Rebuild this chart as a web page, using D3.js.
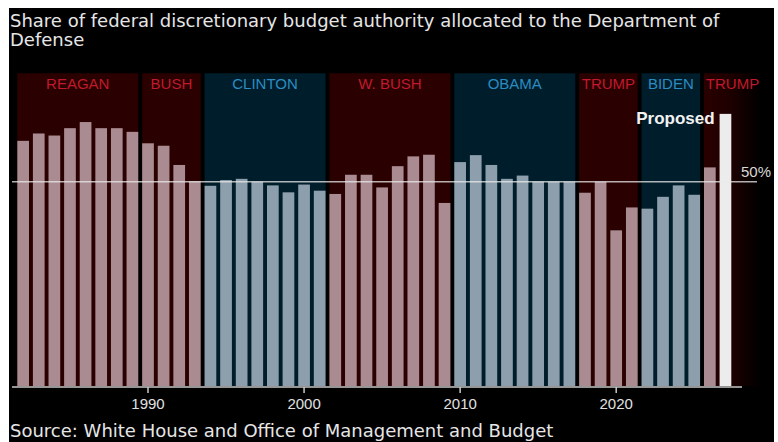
<!DOCTYPE html>
<html>
<head>
<meta charset="utf-8">
<script src="https://cdn.jsdelivr.net/npm/d3@7"></script>
<style>
  html, body { margin: 0; padding: 0; background: #fff; }
  svg { display: block; }
</style>
</head>
<body>
<svg width="778" height="442"></svg>
<script>
const years = d3.range(1982, 2028);
const shares = [
  60.0, 61.8, 61.3, 63.1, 64.6, 63.1, 63.1, 62.2,
  59.4, 58.8, 54.1, 50.1,
  49.0, 50.4, 50.7, 50.0, 49.1, 47.4, 49.3, 47.8,
  47.0, 51.7, 51.7, 48.6, 53.8, 56.2, 56.6, 44.8,
  54.8, 56.5, 54.1, 50.7, 51.5, 50.0, 50.0, 50.0,
  47.3, 50.0, 38.1, 43.7,
  43.4, 46.3, 49.1, 46.8,
  53.5, 66.6
];
const proposedYear = 2027;

const presidents = ["REAGAN", "BUSH", "CLINTON", "W. BUSH", "OBAMA", "TRUMP", "BIDEN", "TRUMP"];
const parties    = ["R", "R", "D", "R", "D", "R", "D", "R"];
const termStart  = [1982, 1990, 1994, 2002, 2010, 2018, 2022, 2026];
const termEnd    = [1989, 1993, 2001, 2009, 2017, 2021, 2025, 2027];

const tickYears = [1990, 2000, 2010, 2020];
const refLine = 50;

const W = 778, H = 442;
const svg = d3.select("svg");

// black panel with the white frame around it
svg.append("rect")
    .attr("x", 9).attr("y", 8)
    .attr("width", W - 9 - 4).attr("height", H - 8)
    .attr("fill", "#000");

const x = d3.scaleBand()
    .domain(years)
    .range([17.3, 731.3])
    .paddingInner(0.25)
    .paddingOuter(0);

const y = d3.scaleLinear()
    .domain([0, 50])
    .range([386, 181.7]);

const bandTop = 73.3;
const colors = {
  R: { band: "#2a0000", bar: "#a98b91", label: "#c01a2c" },
  D: { band: "#001d2b", bar: "#8d9fad", label: "#2b8cc2" }
};

const defs = svg.append("defs");
const grad = defs.append("linearGradient").attr("id", "fade");
grad.append("stop").attr("offset", "0%").attr("stop-color", "#2a0000");
grad.append("stop").attr("offset", "45%").attr("stop-color", "#1e0000");
grad.append("stop").attr("offset", "100%").attr("stop-color", "#000");

// term bands
presidents.forEach((name, i) => {
  const x0 = x(termStart[i]);
  const last = i === presidents.length - 1;
  const x1 = last ? 761 : x(termEnd[i]) + x.bandwidth();
  svg.append("rect")
      .attr("x", x0).attr("y", bandTop)
      .attr("width", x1 - x0).attr("height", y(0) - bandTop)
      .attr("fill", last ? "url(#fade)" : colors[parties[i]].band);

  svg.append("text")
      .attr("x", (x0 + x1) / 2)
      .attr("y", 89)
      .attr("text-anchor", "middle")
      .style("font-family", "'Liberation Sans', Arial, sans-serif")
      .style("font-size", "15px")
      .attr("fill", colors[parties[i]].label)
      .text(name);
});

function partyOf(yr) {
  const i = termStart.findIndex((s, k) => yr >= s && yr <= termEnd[k]);
  return parties[i];
}

// bars
svg.append("g")
  .selectAll("rect")
  .data(years)
  .join("rect")
    .attr("x", d => x(d))
    .attr("width", x.bandwidth())
    .attr("y", (d, i) => y(shares[i]))
    .attr("height", (d, i) => y(0) - y(shares[i]))
    .attr("fill", d => d === proposedYear ? "#ececec" : colors[partyOf(d)].bar);

// 50% reference line
svg.append("line")
    .attr("x1", 12).attr("x2", 757)
    .attr("y1", y(refLine)).attr("y2", y(refLine))
    .attr("stroke", "rgba(235,235,235,0.75)")
    .attr("stroke-width", 1.5);

svg.append("text")
    .attr("x", 771).attr("y", y(refLine) - 4.5)
    .attr("text-anchor", "end")
    .style("font-family", "'Liberation Sans', Arial, sans-serif")
    .style("font-size", "15px")
    .attr("fill", "#d8d8d8")
    .text(refLine + "%");

svg.append("text")
    .attr("x", x(proposedYear) - 5)
    .attr("y", 124)
    .attr("text-anchor", "end")
    .style("font-family", "'Liberation Sans', Arial, sans-serif")
    .style("font-size", "17px")
    .style("font-weight", "bold")
    .attr("fill", "#f2f2f2")
    .text("Proposed");

// x axis
svg.append("line")
    .attr("x1", 12).attr("x2", 742)
    .attr("y1", 387).attr("y2", 387)
    .attr("stroke", "#c8c8c8")
    .attr("stroke-width", 1.5);

const xAxis = svg.append("g")
    .attr("transform", "translate(0,387)")
    .call(d3.axisBottom(x).tickValues(tickYears).tickSize(6).tickPadding(5));
xAxis.select(".domain").remove();
xAxis.selectAll("line").attr("stroke", "#c8c8c8").attr("stroke-width", 1.5);
xAxis.selectAll("text")
    .attr("fill", "#e0e0e0")
    .style("font-family", "'Liberation Sans', Arial, sans-serif")
    .style("font-size", "15px");

// title and source
const title = svg.append("text")
    .style("font-family", "'DejaVu Sans', sans-serif")
    .style("font-size", "18px")
    .attr("fill", "#e6e6e6");
title.append("tspan").attr("x", 10).attr("y", 26.5)
    .text("Share of federal discretionary budget authority allocated to the Department of");
title.append("tspan").attr("x", 10).attr("y", 46)
    .text("Defense");

svg.append("text")
    .attr("x", 10).attr("y", 436.5)
    .style("font-family", "'DejaVu Sans', sans-serif")
    .style("font-size", "18px")
    .attr("fill", "#e6e6e6")
    .text("Source: White House and Office of Management and Budget");
</script>
</body>
</html>
